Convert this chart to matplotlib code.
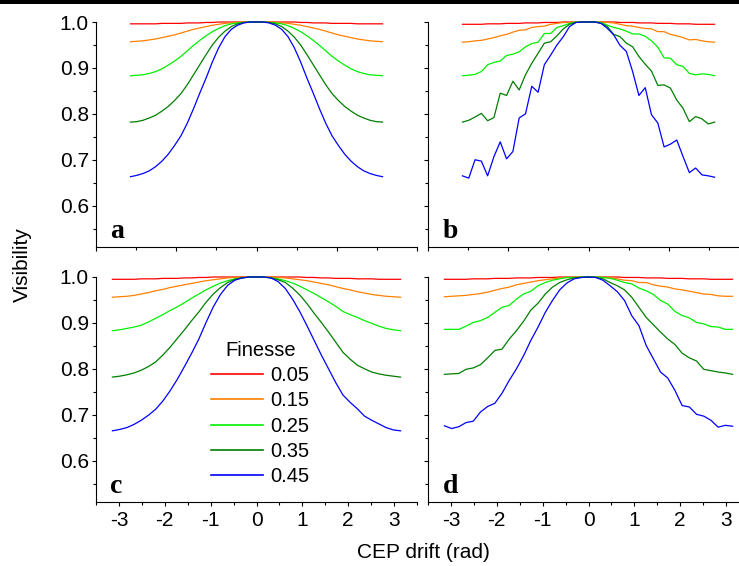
import matplotlib
matplotlib.use("Agg")
import matplotlib.pyplot as plt
from matplotlib.ticker import MultipleLocator, NullFormatter
from matplotlib.patches import Rectangle

# faseakser (rad): øverste paneler -pi/2..pi/2, nederste -pi..pi
x_top = [-1.571, -1.492, -1.414, -1.335, -1.257, -1.178, -1.100, -1.021, -0.942, -0.864, -0.785,
         -0.707, -0.628, -0.550, -0.471, -0.393, -0.314, -0.236, -0.157, -0.079, 0.0,
         0.079, 0.157, 0.236, 0.314, 0.393, 0.471, 0.550, 0.628, 0.707, 0.785,
         0.864, 0.942, 1.021, 1.100, 1.178, 1.257, 1.335, 1.414, 1.492, 1.571]
x_bot = [-3.142, -2.985, -2.827, -2.670, -2.513, -2.356, -2.199, -2.042, -1.885, -1.728, -1.571,
         -1.414, -1.257, -1.100, -0.942, -0.785, -0.628, -0.471, -0.314, -0.157, 0.0,
         0.157, 0.314, 0.471, 0.628, 0.785, 0.942, 1.100, 1.257, 1.414, 1.571,
         1.728, 1.885, 2.042, 2.199, 2.356, 2.513, 2.670, 2.827, 2.985, 3.142]

finesse = ["0.05", "0.15", "0.25", "0.35", "0.45"]
colors = ["#ff0000", "#ff8000", "#00f000", "#007f00", "#0000ff"]

# panel a
red_a = [0.996, 0.996, 0.996, 0.996, 0.996, 0.997, 0.997, 0.997, 0.997, 0.998,
         0.998, 0.998, 0.999, 0.999, 1.0, 1.0, 1.0, 1.0, 1.0, 1.0,
         1.0, 1.0, 1.0, 1.0, 1.0, 1.0, 1.0, 0.999, 0.999, 0.998,
         0.998, 0.998, 0.997, 0.997, 0.997, 0.997, 0.996, 0.996, 0.996, 0.996, 0.996]
orange_a = [0.957, 0.958, 0.959, 0.961, 0.963, 0.966, 0.969, 0.972, 0.976, 0.980,
            0.984, 0.987, 0.990, 0.993, 0.995, 0.997, 0.998, 0.999, 1.0, 1.0,
            1.0, 1.0, 1.0, 0.999, 0.998, 0.997, 0.995, 0.993, 0.990, 0.987,
            0.984, 0.980, 0.976, 0.972, 0.969, 0.966, 0.963, 0.961, 0.959, 0.958, 0.957]
lgreen_a = [0.883, 0.884, 0.885, 0.888, 0.892, 0.898, 0.906, 0.915, 0.925, 0.937,
            0.949, 0.960, 0.970, 0.979, 0.986, 0.992, 0.996, 0.998, 0.999, 1.0,
            1.0, 1.0, 0.999, 0.998, 0.996, 0.992, 0.986, 0.979, 0.970, 0.960,
            0.949, 0.937, 0.925, 0.915, 0.906, 0.898, 0.892, 0.888, 0.885, 0.884, 0.883]
dgreen_a = [0.782, 0.783, 0.786, 0.791, 0.797, 0.806, 0.816, 0.829, 0.844, 0.863,
            0.885, 0.907, 0.929, 0.950, 0.967, 0.980, 0.990, 0.996, 0.999, 1.0,
            1.0, 1.0, 0.999, 0.996, 0.990, 0.980, 0.967, 0.950, 0.929, 0.907,
            0.885, 0.863, 0.844, 0.829, 0.816, 0.806, 0.797, 0.791, 0.786, 0.783, 0.782]
blue_a = [0.663, 0.666, 0.670, 0.676, 0.685, 0.697, 0.712, 0.731, 0.752, 0.779,
          0.811, 0.845, 0.878, 0.913, 0.944, 0.968, 0.984, 0.993, 0.998, 1.0,
          1.0, 1.0, 0.998, 0.993, 0.984, 0.968, 0.944, 0.913, 0.878, 0.845,
          0.811, 0.779, 0.752, 0.731, 0.712, 0.697, 0.685, 0.676, 0.670, 0.666, 0.663]

# panel b
red_b = [0.995, 0.995, 0.995, 0.995, 0.996, 0.996, 0.996, 0.997, 0.997, 0.997,
         0.998, 0.998, 0.998, 0.999, 0.999, 0.999, 1.0, 1.0, 1.0, 1.0,
         1.0, 1.0, 1.0, 1.0, 1.0, 0.999, 0.999, 0.999, 0.998, 0.998,
         0.998, 0.997, 0.997, 0.997, 0.996, 0.996, 0.996, 0.995, 0.995, 0.995, 0.995]
orange_b = [0.956, 0.957, 0.959, 0.960, 0.963, 0.966, 0.970, 0.973, 0.978, 0.982,
            0.983, 0.988, 0.990, 0.991, 0.995, 0.997, 0.999, 0.999, 1.0, 1.0,
            1.0, 1.0, 1.0, 0.999, 0.998, 0.995, 0.992, 0.991, 0.988, 0.986,
            0.985, 0.979, 0.979, 0.973, 0.970, 0.966, 0.961, 0.962, 0.959, 0.957, 0.956]
lgreen_b = [0.883, 0.884, 0.886, 0.892, 0.907, 0.912, 0.915, 0.927, 0.930, 0.935,
            0.946, 0.953, 0.956, 0.975, 0.975, 0.988, 0.992, 0.997, 1.0, 1.0,
            1.0, 1.0, 0.999, 0.993, 0.988, 0.985, 0.980, 0.974, 0.974, 0.969,
            0.959, 0.945, 0.922, 0.921, 0.907, 0.903, 0.888, 0.885, 0.887, 0.886, 0.883]
dgreen_b = [0.782, 0.786, 0.793, 0.801, 0.785, 0.792, 0.845, 0.840, 0.871, 0.852,
            0.885, 0.910, 0.932, 0.954, 0.957, 0.970, 0.985, 0.995, 0.999, 1.0,
            1.0, 1.0, 0.997, 0.990, 0.973, 0.968, 0.954, 0.946, 0.925, 0.908,
            0.893, 0.862, 0.863, 0.856, 0.830, 0.812, 0.783, 0.794, 0.789, 0.778, 0.782]
blue_b = [0.665, 0.660, 0.700, 0.697, 0.665, 0.707, 0.739, 0.702, 0.718, 0.791,
          0.800, 0.860, 0.847, 0.907, 0.928, 0.950, 0.968, 0.990, 0.999, 1.0,
          1.0, 1.0, 0.997, 0.986, 0.972, 0.949, 0.936, 0.892, 0.840, 0.857,
          0.798, 0.780, 0.728, 0.734, 0.743, 0.707, 0.672, 0.682, 0.667, 0.665, 0.662]

# panel c
red_c = [0.995, 0.995, 0.995, 0.995, 0.996, 0.996, 0.996, 0.997, 0.997, 0.997,
         0.998, 0.998, 0.999, 0.999, 1.0, 1.0, 1.0, 1.0, 1.0, 1.0,
         1.0, 1.0, 1.0, 1.0, 1.0, 1.0, 1.0, 0.999, 0.999, 0.998,
         0.998, 0.997, 0.997, 0.997, 0.996, 0.996, 0.996, 0.995, 0.995, 0.995, 0.995]
orange_c = [0.956, 0.957, 0.958, 0.960, 0.963, 0.966, 0.970, 0.973, 0.977, 0.980,
            0.983, 0.986, 0.989, 0.992, 0.994, 0.996, 0.998, 0.999, 1.0, 1.0,
            1.0, 1.0, 1.0, 0.999, 0.998, 0.996, 0.994, 0.992, 0.989, 0.986,
            0.983, 0.979, 0.975, 0.972, 0.968, 0.965, 0.962, 0.960, 0.958, 0.957, 0.956]
lgreen_c = [0.883, 0.885, 0.888, 0.891, 0.895, 0.902, 0.910, 0.918, 0.927, 0.935,
            0.944, 0.954, 0.963, 0.972, 0.980, 0.987, 0.992, 0.996, 0.998, 1.0,
            1.0, 1.0, 0.998, 0.996, 0.992, 0.987, 0.980, 0.972, 0.964, 0.955,
            0.946, 0.936, 0.925, 0.918, 0.912, 0.905, 0.899, 0.893, 0.888, 0.885, 0.883]
dgreen_c = [0.782, 0.784, 0.787, 0.791, 0.797, 0.805, 0.815, 0.830, 0.847, 0.866,
            0.885, 0.905, 0.924, 0.945, 0.963, 0.977, 0.988, 0.995, 0.998, 1.0,
            1.0, 1.0, 0.998, 0.994, 0.988, 0.976, 0.961, 0.942, 0.921, 0.901,
            0.880, 0.858, 0.836, 0.821, 0.808, 0.800, 0.793, 0.789, 0.786, 0.784, 0.782]
blue_c = [0.665, 0.668, 0.672, 0.679, 0.688, 0.699, 0.712, 0.730, 0.752, 0.777,
          0.805, 0.834, 0.865, 0.901, 0.935, 0.962, 0.982, 0.993, 0.998, 1.0,
          1.0, 1.0, 0.998, 0.990, 0.975, 0.952, 0.925, 0.894, 0.862, 0.830,
          0.800, 0.770, 0.743, 0.727, 0.713, 0.697, 0.688, 0.680, 0.672, 0.667, 0.665]

# panel d
red_d = [0.995, 0.995, 0.995, 0.995, 0.996, 0.996, 0.996, 0.997, 0.997, 0.997,
         0.998, 0.998, 0.998, 0.999, 0.999, 0.999, 1.0, 1.0, 1.0, 1.0,
         1.0, 1.0, 1.0, 1.0, 1.0, 0.999, 0.999, 0.999, 0.998, 0.998,
         0.998, 0.997, 0.997, 0.997, 0.996, 0.996, 0.996, 0.995, 0.995, 0.995, 0.995]
orange_d = [0.957, 0.958, 0.959, 0.960, 0.962, 0.964, 0.967, 0.971, 0.975, 0.978,
            0.983, 0.986, 0.989, 0.992, 0.994, 0.996, 0.998, 0.999, 0.999, 1.0,
            1.0, 1.0, 0.999, 0.999, 0.996, 0.993, 0.992, 0.988, 0.988, 0.983,
            0.980, 0.978, 0.974, 0.972, 0.969, 0.966, 0.963, 0.962, 0.959, 0.958, 0.958]
lgreen_d = [0.886, 0.886, 0.886, 0.893, 0.901, 0.905, 0.912, 0.923, 0.934, 0.938,
            0.952, 0.963, 0.969, 0.981, 0.988, 0.993, 0.996, 0.999, 0.999, 1.0,
            1.0, 1.0, 0.999, 0.997, 0.993, 0.988, 0.985, 0.976, 0.970, 0.962,
            0.949, 0.941, 0.925, 0.916, 0.911, 0.901, 0.898, 0.892, 0.891, 0.886, 0.886]
dgreen_d = [0.788, 0.789, 0.790, 0.799, 0.802, 0.809, 0.824, 0.840, 0.843, 0.865,
            0.883, 0.904, 0.928, 0.943, 0.963, 0.978, 0.988, 0.994, 0.998, 0.999,
            1.0, 0.999, 0.996, 0.988, 0.981, 0.972, 0.956, 0.934, 0.912, 0.896,
            0.880, 0.865, 0.853, 0.834, 0.824, 0.817, 0.799, 0.796, 0.793, 0.791, 0.788]
blue_d = [0.676, 0.670, 0.674, 0.683, 0.686, 0.706, 0.718, 0.725, 0.747, 0.775,
          0.800, 0.829, 0.862, 0.891, 0.923, 0.949, 0.972, 0.987, 0.996, 0.999,
          1.0, 0.999, 0.993, 0.981, 0.968, 0.949, 0.916, 0.894, 0.851, 0.822,
          0.793, 0.780, 0.753, 0.720, 0.717, 0.701, 0.697, 0.688, 0.673, 0.677, 0.675]

SANS = "Liberation Sans"
SERIF = "Liberation Serif"
plt.rcParams["font.family"] = SANS
plt.rcParams["font.size"] = 15

W, H = 739, 566
fig = plt.figure(figsize=(W / 100, H / 100), dpi=100)


def px_axes(left, top, right, bottom):
    # akser placeret i pixels (fra øverste venstre hjørne)
    return fig.add_axes([left / W, 1 - bottom / H, (right - left) / W, (bottom - top) / H])


def style_axes(ax, top_row, left_col):
    for side in ("top", "right"):
        ax.spines[side].set_visible(False)
    for side in ("left", "bottom"):
        ax.spines[side].set_linewidth(0.8)
    ax.set_ylim(0.51, 1.0)
    ax.yaxis.set_major_locator(MultipleLocator(0.1))
    ax.yaxis.set_minor_locator(MultipleLocator(0.05))
    if top_row:
        ax.set_xlim(-2, 2)
    else:
        ax.set_xlim(-3.5, 3.5)
    ax.xaxis.set_major_locator(MultipleLocator(1))
    ax.xaxis.set_minor_locator(MultipleLocator(0.5))
    ax.tick_params(which="major", direction="out", length=3.2, width=0.8, pad=2, labelsize=15)
    ax.tick_params(which="minor", direction="out", length=2.2, width=0.8)
    ax.tick_params(axis="x", pad=3)
    if top_row:
        ax.xaxis.set_major_formatter(NullFormatter())
    else:
        ax.set_xticks([-3, -2, -1, 0, 1, 2, 3])
        ax.set_xticklabels(["-3", "-2", "-1", "0", "1", "2", "3"])
    if not left_col:
        ax.yaxis.set_major_formatter(NullFormatter())
    else:
        ax.set_yticks([0.6, 0.7, 0.8, 0.9, 1.0])
        ax.set_yticklabels(["0.6", "0.7", "0.8", "0.9", "1.0"])


panels = [
    ("a", x_top, [red_a, orange_a, lgreen_a, dgreen_a, blue_a], (96, 22, 417, 247), True, True),
    ("b", x_top, [red_b, orange_b, lgreen_b, dgreen_b, blue_b], (428, 22, 749, 247), True, False),
    ("c", x_bot, [red_c, orange_c, lgreen_c, dgreen_c, blue_c], (96, 277, 417, 502), False, True),
    ("d", x_bot, [red_d, orange_d, lgreen_d, dgreen_d, blue_d], (428, 277, 749, 502), False, False),
]

for letter, xs, series, box, top_row, left_col in panels:
    ax = px_axes(*box)
    for ys, col, lab in zip(series, colors, finesse):
        ax.plot(xs, ys, color=col, linewidth=0.9, label=lab, clip_on=False)
    style_axes(ax, top_row, left_col)
    ax.text(0.045, 0.04, letter, transform=ax.transAxes, fontsize=20,
            fontweight="bold", family=SERIF, va="baseline", ha="left")
    if letter == "c":
        leg = ax.legend(title="Finesse", loc="upper left", bbox_to_anchor=(0.349, 0.729),
                        frameon=False, fontsize=14.5, title_fontsize=14.5,
                        handlelength=2.6, handletextpad=0.35, labelspacing=0.31,
                        borderpad=0.15, borderaxespad=0)
        for line in leg.get_lines():
            line.set_linewidth(1.2)

fig.text(22 / W, 1 - 265 / H, "Visibility", rotation=90, ha="center", va="center", fontsize=15)
fig.text(423 / W, 1 - 553 / H, "CEP drift (rad)", ha="center", va="center", fontsize=15)

# sort kant øverst i billedet
fig.patches.append(Rectangle((0, 1 - 3.5 / H), 1, 3.5 / H, transform=fig.transFigure,
                             facecolor="black", edgecolor="none"))

fig.savefig("out.png", dpi=100)
